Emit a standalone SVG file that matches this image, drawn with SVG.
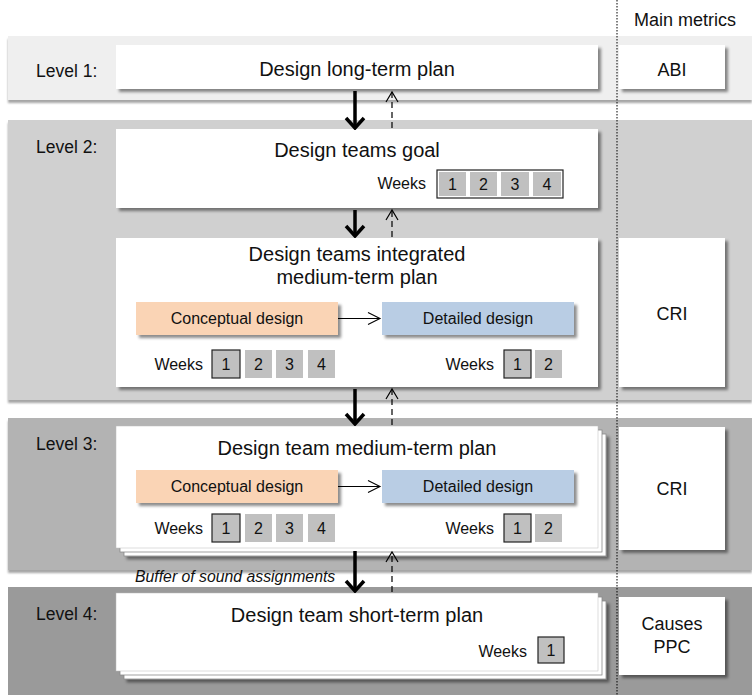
<svg xmlns="http://www.w3.org/2000/svg" width="752" height="696" viewBox="0 0 752 696">
<defs>
<filter id="sh" x="-10%" y="-10%" width="125%" height="140%">
<feDropShadow dx="3" dy="3" stdDeviation="1.8" flood-color="#000" flood-opacity="0.45"/>
</filter>
<filter id="bsh" x="-5%" y="-10%" width="110%" height="125%">
<feDropShadow dx="0" dy="3" stdDeviation="1.2" flood-color="#000" flood-opacity="0.35"/>
</filter>
<marker id="hs" viewBox="-2 -11 14 22" refX="10" refY="0" markerWidth="14" markerHeight="22" markerUnits="userSpaceOnUse" orient="auto">
<path d="M0,-9 L10,0 L0,9" fill="none" stroke="#000" stroke-width="3.5"/>
</marker>
<marker id="hd" viewBox="-2 -8 14 16" refX="10" refY="0" markerWidth="14" markerHeight="16" markerUnits="userSpaceOnUse" orient="auto">
<path d="M0,-6 L10,0 L0,6" fill="none" stroke="#000" stroke-width="1.2"/>
</marker>
<marker id="ht" viewBox="-2 -8 16 16" refX="12" refY="0" markerWidth="16" markerHeight="16" markerUnits="userSpaceOnUse" orient="auto">
<path d="M0,-6 L12,0 L0,6" fill="none" stroke="#000" stroke-width="1.1"/>
</marker>
</defs>
<style>
text{font-family:"Liberation Sans",Arial,sans-serif;fill:#111}
.lvl{font-size:17.5px}
.ttl{font-size:20px;text-anchor:middle}
.met{font-size:18px;text-anchor:middle}
.wk{font-size:16px}
.wkr{font-size:16px;text-anchor:end}
.cn{font-size:16px;text-anchor:middle}
.box{fill:#fff;filter:url(#sh)}
.page{fill:#fff;stroke:#8a8a8a;stroke-width:0.8}
.cell{fill:#c0c0c0}
.cellb{fill:#c0c0c0;stroke:#222;stroke-width:1.2}
.con{fill:#fad4b5;filter:url(#sh)}
.det{fill:#b9cde4;filter:url(#sh)}
.solid{stroke:#000;stroke-width:3.5;fill:none;marker-end:url(#hs)}
.dash{stroke:#000;stroke-width:1.2;fill:none;stroke-dasharray:6,4;marker-end:url(#hd)}
</style>
<rect width="752" height="696" fill="#fff"/>

<g id="bands">
<rect x="8" y="36" width="744" height="64" fill="#efefef" filter="url(#bsh)"/>
<rect x="8" y="120" width="744" height="280" fill="#d0d0d0" filter="url(#bsh)"/>
<rect x="8" y="418" width="744" height="152" fill="#b3b3b3" filter="url(#bsh)"/>
<rect x="8" y="587" width="744" height="108" fill="#9a9a9a"/>
</g>

<line x1="617" y1="0" x2="617" y2="696" stroke="#000" stroke-width="1" stroke-dasharray="1.5,1.5"/>
<text x="685" y="26" class="met">Main metrics</text>

<g id="level1">
<text x="36" y="77" class="lvl">Level 1:</text>
<rect x="116" y="45" width="482" height="44" class="box"/>
<text x="357" y="76" class="ttl">Design long-term plan</text>
</g>
<g id="abi">
<rect x="619" y="45" width="106" height="44" class="box"/>
<text x="672" y="76" class="met">ABI</text>
</g>

<g id="level2-goal">
<text x="36" y="153" class="lvl">Level 2:</text>
<rect x="116" y="129" width="482" height="79" class="box"/>
<text x="357" y="157" class="ttl">Design teams goal</text>
<text x="426" y="189" class="wkr">Weeks</text>
<rect x="437" y="170" width="126" height="28" fill="#fff" stroke="#222" stroke-width="1.2"/>
<rect x="439" y="172" width="27" height="24" class="cell"/>
<rect x="470" y="172" width="27" height="24" class="cell"/>
<rect x="501" y="172" width="28" height="24" class="cell"/>
<rect x="533" y="172" width="28" height="24" class="cell"/>
<text x="452.5" y="189.5" class="cn">1</text>
<text x="483.5" y="189.5" class="cn">2</text>
<text x="515" y="189.5" class="cn">3</text>
<text x="547" y="189.5" class="cn">4</text>
</g>

<g id="level2-integrated">
<rect x="116" y="238" width="482" height="149" class="box"/>
<text x="357" y="261" class="ttl">Design teams integrated</text>
<text x="357" y="284" class="ttl">medium-term plan</text>
<rect x="136" y="302" width="202" height="33" class="con"/>
<text x="237" y="324" class="cn">Conceptual design</text>
<rect x="382" y="302" width="192" height="33" class="det"/>
<text x="478" y="324" class="cn">Detailed design</text>
<line x1="338" y1="318.5" x2="380" y2="318.5" stroke="#000" stroke-width="1.1" marker-end="url(#ht)"/>
<text x="203" y="370" class="wkr">Weeks</text>
<rect x="212" y="350" width="28" height="28" class="cellb"/>
<rect x="245" y="350" width="27" height="28" class="cell"/>
<rect x="276" y="350" width="27" height="28" class="cell"/>
<rect x="308" y="350" width="27" height="28" class="cell"/>
<text x="226" y="370" class="cn">1</text>
<text x="258.5" y="370" class="cn">2</text>
<text x="289.5" y="370" class="cn">3</text>
<text x="321.5" y="370" class="cn">4</text>
<text x="494" y="370" class="wkr">Weeks</text>
<rect x="504" y="350" width="27" height="28" class="cellb"/>
<rect x="535" y="350" width="27" height="28" class="cell"/>
<text x="517.5" y="370" class="cn">1</text>
<text x="548.5" y="370" class="cn">2</text>
</g>
<g id="cri2">
<rect x="619" y="238" width="106" height="149" class="box"/>
<text x="672" y="320" class="met">CRI</text>
</g>

<g id="level3">
<text x="36" y="450" class="lvl">Level 3:</text>
<rect x="124" y="434" width="482" height="122" class="page" filter="url(#sh)"/>
<rect x="120" y="430" width="482" height="122" class="page"/>
<rect x="116" y="426" width="482" height="122" fill="#fff" stroke="#bbb" stroke-width="0.5"/>
<text x="357" y="455" class="ttl">Design team medium-term plan</text>
<rect x="136" y="470" width="202" height="33" class="con"/>
<text x="237" y="492" class="cn">Conceptual design</text>
<rect x="382" y="470" width="192" height="33" class="det"/>
<text x="478" y="492" class="cn">Detailed design</text>
<line x1="338" y1="486.5" x2="380" y2="486.5" stroke="#000" stroke-width="1.1" marker-end="url(#ht)"/>
<text x="203" y="534" class="wkr">Weeks</text>
<rect x="212" y="514" width="28" height="28" class="cellb"/>
<rect x="245" y="514" width="27" height="28" class="cell"/>
<rect x="276" y="514" width="27" height="28" class="cell"/>
<rect x="308" y="514" width="27" height="28" class="cell"/>
<text x="226" y="534" class="cn">1</text>
<text x="258.5" y="534" class="cn">2</text>
<text x="289.5" y="534" class="cn">3</text>
<text x="321.5" y="534" class="cn">4</text>
<text x="494" y="534" class="wkr">Weeks</text>
<rect x="504" y="514" width="27" height="28" class="cellb"/>
<rect x="535" y="514" width="27" height="28" class="cell"/>
<text x="517.5" y="534" class="cn">1</text>
<text x="548.5" y="534" class="cn">2</text>
</g>
<g id="cri3">
<rect x="619" y="427" width="106" height="123" class="box"/>
<text x="672" y="495" class="met">CRI</text>
</g>

<text x="135" y="582" font-size="15.8" font-style="italic">Buffer of sound assignments</text>

<g id="level4">
<text x="36" y="620" class="lvl">Level 4:</text>
<rect x="124" y="601" width="482" height="78" class="page" filter="url(#sh)"/>
<rect x="120" y="597" width="482" height="78" class="page"/>
<rect x="116" y="593" width="482" height="78" fill="#fff" stroke="#bbb" stroke-width="0.5"/>
<text x="357" y="622" class="ttl">Design team short-term plan</text>
<text x="527" y="657" class="wkr">Weeks</text>
<rect x="538" y="637" width="26" height="26" class="cellb"/>
<text x="551" y="656" class="cn">1</text>
</g>
<g id="ppc">
<rect x="619" y="597" width="106" height="78" class="box"/>
<text x="672" y="630" class="met">Causes</text>
<text x="672" y="653" class="met">PPC</text>
</g>

<g id="connectors">
<line x1="355" y1="91" x2="355" y2="128" class="solid"/>
<line x1="392" y1="128" x2="392" y2="92" class="dash"/>
<line x1="355" y1="210" x2="355" y2="236" class="solid"/>
<line x1="392" y1="237" x2="392" y2="210" class="dash"/>
<line x1="355" y1="389" x2="355" y2="424" class="solid"/>
<line x1="392" y1="425" x2="392" y2="389" class="dash"/>
<line x1="355" y1="551" x2="355" y2="591" class="solid"/>
<line x1="392" y1="592" x2="392" y2="552" class="dash"/>
</g>
</svg>
